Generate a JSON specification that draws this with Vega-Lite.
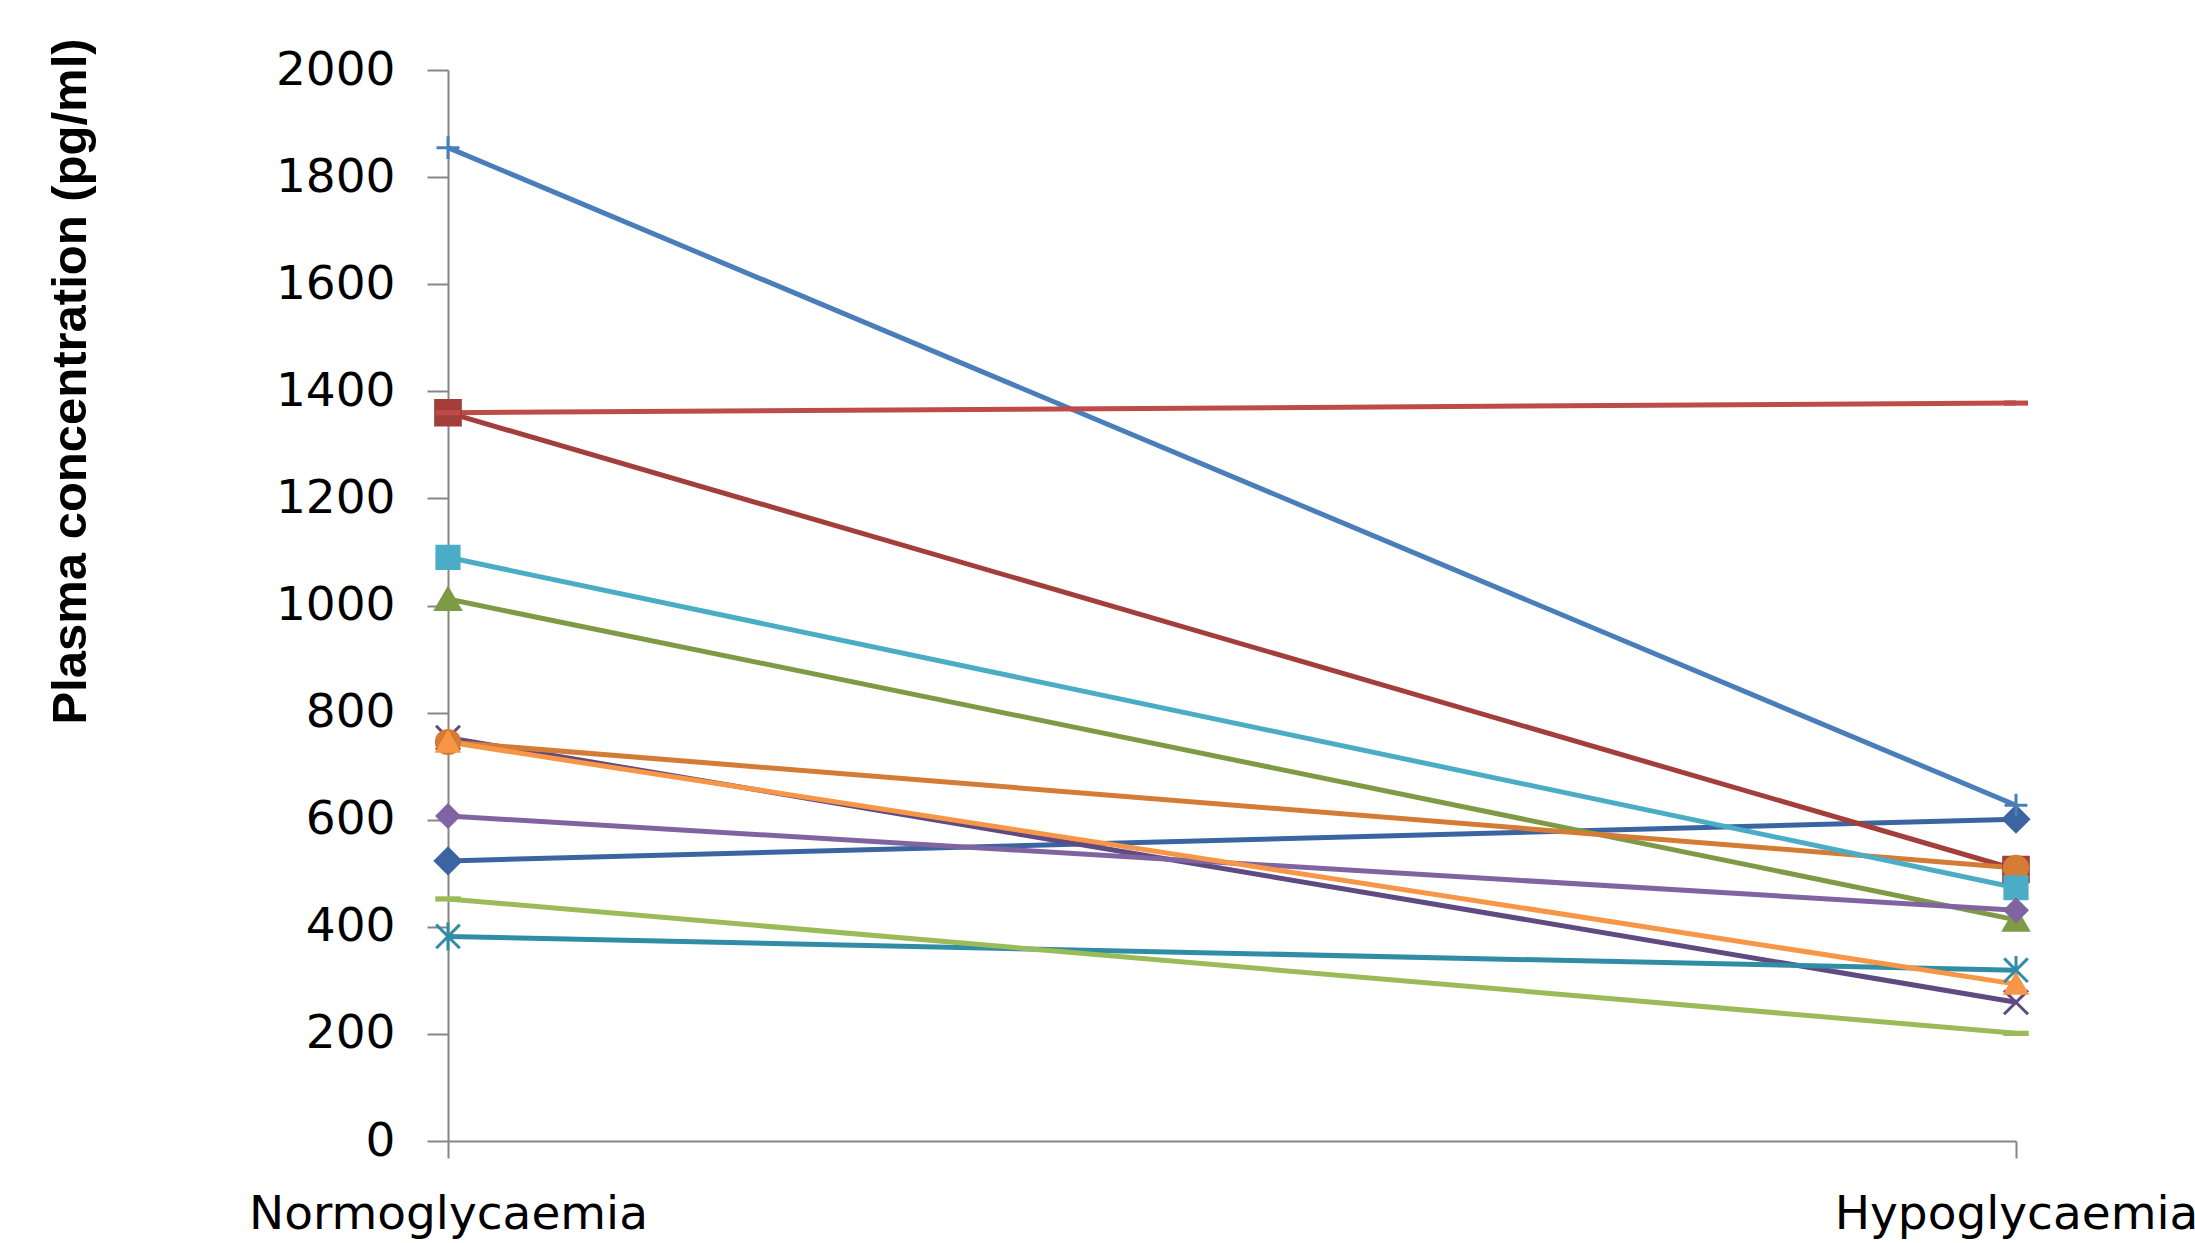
{
  "$schema": "https://vega.github.io/schema/vega-lite/v6.json",
  "width": 1568,
  "height": 1071,
  "autosize": {"type": "none"},
  "padding": {"left": 448, "top": 70, "right": 179, "bottom": 102},
  "background": "white",
  "config": {
    "view": {"stroke": null},
    "axis": {
      "domainColor": "#868686",
      "domainWidth": 2,
      "tickColor": "#868686",
      "tickWidth": 2,
      "grid": false,
      "labelFont": "DejaVu Sans",
      "labelFontSize": 47,
      "labelColor": "#000000"
    }
  },
  "data": {
    "values": [
      {"series": "S1", "condition": "Normoglycaemia", "value": 523},
      {"series": "S1", "condition": "Hypoglycaemia", "value": 601},
      {"series": "S2", "condition": "Normoglycaemia", "value": 1360},
      {"series": "S2", "condition": "Hypoglycaemia", "value": 507},
      {"series": "S3", "condition": "Normoglycaemia", "value": 1012},
      {"series": "S3", "condition": "Hypoglycaemia", "value": 413},
      {"series": "S4", "condition": "Normoglycaemia", "value": 753},
      {"series": "S4", "condition": "Hypoglycaemia", "value": 259},
      {"series": "S5", "condition": "Normoglycaemia", "value": 382},
      {"series": "S5", "condition": "Hypoglycaemia", "value": 319},
      {"series": "S6", "condition": "Normoglycaemia", "value": 745},
      {"series": "S6", "condition": "Hypoglycaemia", "value": 510},
      {"series": "S7", "condition": "Normoglycaemia", "value": 1855},
      {"series": "S7", "condition": "Hypoglycaemia", "value": 627},
      {"series": "S8", "condition": "Normoglycaemia", "value": 452},
      {"series": "S8", "condition": "Hypoglycaemia", "value": 201},
      {"series": "S9", "condition": "Normoglycaemia", "value": 1090},
      {"series": "S9", "condition": "Hypoglycaemia", "value": 473},
      {"series": "S10", "condition": "Normoglycaemia", "value": 607},
      {"series": "S10", "condition": "Hypoglycaemia", "value": 431},
      {"series": "S11", "condition": "Normoglycaemia", "value": 745},
      {"series": "S11", "condition": "Hypoglycaemia", "value": 293},
      {"series": "S12", "condition": "Normoglycaemia", "value": 1360},
      {"series": "S12", "condition": "Hypoglycaemia", "value": 1378}
    ]
  },
  "encoding": {
    "x": {
      "field": "condition",
      "type": "nominal",
      "sort": ["Normoglycaemia", "Hypoglycaemia"],
      "scale": {"type": "point", "padding": 0},
      "axis": {
        "title": null,
        "labelAngle": 0,
        "tickSize": 17,
        "labelPadding": 33,
        "labelLimit": 0
      }
    },
    "y": {
      "field": "value",
      "type": "quantitative",
      "scale": {"domain": [0, 2000], "nice": false},
      "axis": {
        "values": [0, 200, 400, 600, 800, 1000, 1200, 1400, 1600, 1800, 2000],
        "format": "d",
        "tickSize": 21,
        "labelPadding": 32,
        "title": "Plasma concentration (pg/ml)",
        "titleFont": "Liberation Sans",
        "titleFontWeight": "bold",
        "titleFontSize": 49,
        "titleColor": "#000000",
        "titleAngle": -90,
        "titleAlign": "center",
        "titleBaseline": "middle",
        "titleX": -378,
        "titleY": 311
      }
    }
  },
  "layer": [
    {
      "mark": {"type": "line", "strokeWidth": 5},
      "encoding": {
        "detail": {"field": "series"},
        "color": {
          "field": "series",
          "type": "nominal",
          "legend": null,
          "scale": {
            "domain": ["S1", "S2", "S3", "S4", "S5", "S6", "S7", "S8", "S9", "S10", "S11", "S12"],
            "range": ["#3B65A0", "#A33E3B", "#7E9A45", "#5F4A82", "#318DA5", "#D47C35", "#4A7EBB", "#9BBB59", "#4BACC6", "#8064A2", "#F79646", "#BE4B48"]
          }
        }
      }
    },
    {
      "mark": {"type": "point", "filled": true, "opacity": 1, "strokeWidth": 3},
      "encoding": {
        "color": {
          "field": "series",
          "type": "nominal",
          "legend": null,
          "scale": {
            "domain": ["S1", "S2", "S3", "S4", "S5", "S6", "S7", "S8", "S9", "S10", "S11", "S12"],
            "range": ["#3B65A0", "#A33E3B", "#7E9A45", "#5F4A82", "#318DA5", "#D47C35", "#4A7EBB", "#9BBB59", "#4BACC6", "#8064A2", "#F79646", "#BE4B48"]
          }
        },
        "stroke": {
          "field": "series",
          "type": "nominal",
          "legend": null,
          "scale": {
            "domain": ["S1", "S2", "S3", "S4", "S5", "S6", "S7", "S8", "S9", "S10", "S11", "S12"],
            "range": ["#3B65A0", "#A33E3B", "#7E9A45", "#5F4A82", "#318DA5", "#D47C35", "#4A7EBB", "#9BBB59", "#4BACC6", "#8064A2", "#F79646", "#BE4B48"]
          }
        },
        "size": {
          "field": "series",
          "type": "nominal",
          "legend": null,
          "scale": {
            "domain": ["S1", "S2", "S3", "S4", "S5", "S6", "S7", "S8", "S9", "S10", "S11", "S12"],
            "range": [625, 441, 500, 484, 484, 520, 484, 484, 441, 625, 500, 484]
          }
        },
        "shape": {
          "field": "series",
          "type": "nominal",
          "legend": null,
          "scale": {
            "domain": ["S1", "S2", "S3", "S4", "S5", "S6", "S7", "S8", "S9", "S10", "S11", "S12"],
            "range": [
              "diamond",
              "square",
              "triangle-up",
              "M-1,-1L1,1M-1,1L1,-1",
              "M-1,-1L1,1M-1,1L1,-1M0,-1.2V1.2",
              "circle",
              "M-1,0H1M0,-1V1",
              "M-1,-0.1H1V0.1H-1Z",
              "square",
              "diamond",
              "triangle-up",
              "M-1,-0.1H1V0.1H-1Z"
            ]
          }
        }
      }
    }
  ]
}
